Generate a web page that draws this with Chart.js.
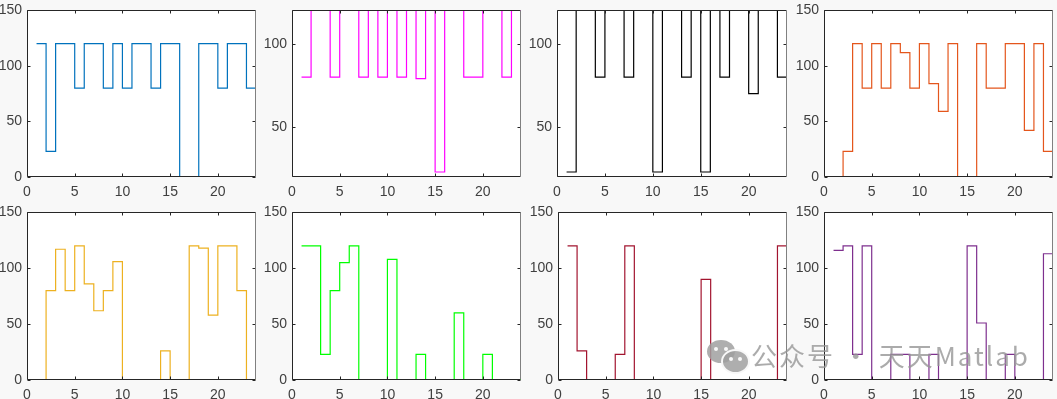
<!DOCTYPE html>
<html>
<head>
<meta charset="utf-8">
<script src="https://cdn.jsdelivr.net/npm/chart.js@4"></script>
<style>
  body { margin: 0; width: 1057px; height: 399px; overflow: hidden; background: #f8f8f8; position: relative; }
  canvas { position: absolute; z-index: 1; }
  .wm { position: absolute; z-index: 5; left: 751px; top: 336px; font-family: "Noto Sans CJK SC", sans-serif; font-size: 26px; color: rgba(150,150,150,0.8); white-space: nowrap; letter-spacing: 2px; }
  .bub { position: absolute; z-index: 5; border-radius: 50%; background: rgba(160,160,160,0.85); }
  .eye { position: absolute; z-index: 6; width: 4px; height: 4px; border-radius: 50%; background: #f8f8f8; }
</style>
</head>
<body>
<div class="bub" style="left:707px;top:340px;width:28px;height:23px"></div>
<div class="bub" style="left:721px;top:349px;width:25px;height:21px;border:2px solid #f8f8f8"></div>
<div class="eye" style="left:714px;top:347px"></div>
<div class="eye" style="left:724px;top:347px"></div>
<div class="eye" style="left:729px;top:357px"></div>
<div class="eye" style="left:738px;top:357px"></div>
<div class="wm">公众号 · 天天Matlab</div>
<script>
// x positions of the stairs (hours 1..24)
const xValues = [1,2,3,4,5,6,7,8,9,10,11,12,13,14,15,16,17,18,19,20,21,22,23,24];
const xTicks = [0, 5, 10, 15, 20];
const yTicksFull = [0, 50, 100, 150];
const yTicksTight = [50, 100];

const blueVals    = [120,23,120,120,80,120,120,80,120,80,120,120,80,120,120,0,0,120,120,80,120,120,80,120];
const magentaVals = [80,120,120,80,120,120,80,120,80,120,80,120,79,120,23,120,120,80,80,120,120,80,120,120];
const blackVals   = [23,120,120,80,120,120,80,120,120,23,120,120,80,120,23,120,80,120,120,70,120,120,80,80];
const orangeVals  = [0,23,120,80,120,80,120,112,80,120,84,59,120,0,0,120,80,80,120,120,42,120,23,80];
const yellowVals  = [0,80,117,80,120,86,62,80,106,0,0,0,0,26,0,0,120,118,58,120,120,80,0,0];
const greenVals   = [120,120,23,80,105,120,0,0,0,108,0,0,23,0,0,0,60,0,0,23,0,0,0,101];
const redVals     = [120,26,0,0,0,23,120,0,0,0,0,0,0,0,90,0,0,0,0,0,0,0,120,120];
const purpleVals  = [116,120,23,120,0,0,23,23,0,0,23,0,0,0,120,51,0,0,23,0,0,0,113,113];

const panels = [
  { vals: blueVals,    color: '#0072BD', ymin: 0,  ymax: 150, yt: yTicksFull,  l: 27,  t: 7,   w: 229, h: 170 },
  { vals: magentaVals, color: '#FF00FF', ymin: 20, ymax: 120, yt: yTicksTight, l: 292, t: 7,   w: 229, h: 170 },
  { vals: blackVals,   color: '#000000', ymin: 20, ymax: 120, yt: yTicksTight, l: 557, t: 7,   w: 230, h: 170 },
  { vals: orangeVals,  color: '#E4561C', ymin: 0,  ymax: 150, yt: yTicksFull,  l: 824, t: 7,   w: 229, h: 170 },
  { vals: yellowVals,  color: '#EDB120', ymin: 0,  ymax: 150, yt: yTicksFull,  l: 27,  t: 209, w: 229, h: 171 },
  { vals: greenVals,   color: '#00FF00', ymin: 0,  ymax: 150, yt: yTicksFull,  l: 292, t: 209, w: 229, h: 171 },
  { vals: redVals,     color: '#A2142F', ymin: 0,  ymax: 150, yt: yTicksFull,  l: 558, t: 209, w: 229, h: 171 },
  { vals: purpleVals,  color: '#7E2F8E', ymin: 0,  ymax: 150, yt: yTicksFull,  l: 824, t: 209, w: 229, h: 171 }
];

// box and inward ticks like a matlab axes
const boxPlugin = {
  id: 'box',
  afterDatasetsDraw(chart) {
    const ctx = chart.ctx, a = chart.chartArea, x = chart.scales.x, y = chart.scales.y;
    const L = Math.round(a.left) + 0.5, R = Math.round(a.right) - 0.5;
    const T = Math.round(a.top) + 0.5, B = Math.round(a.bottom) - 0.5;
    ctx.save();
    ctx.lineWidth = 1;
    ctx.strokeStyle = '#262626';
    ctx.beginPath();
    x.ticks.forEach(tk => {
      const px = Math.round(x.getPixelForValue(tk.value)) + 0.5;
      ctx.moveTo(px, B); ctx.lineTo(px, B - 3);
      ctx.moveTo(px, T); ctx.lineTo(px, T + 3);
    });
    y.ticks.forEach(tk => {
      const py = Math.round(y.getPixelForValue(tk.value)) + 0.5;
      ctx.moveTo(L, py); ctx.lineTo(L + 3, py);
      ctx.moveTo(R, py); ctx.lineTo(R - 3, py);
    });
    ctx.stroke();
    ctx.beginPath();
    ctx.moveTo(L, T); ctx.lineTo(L, B); ctx.lineTo(R, B);
    ctx.moveTo(L, T); ctx.lineTo(R, T);
    ctx.stroke();
    ctx.strokeStyle = '#808080';
    ctx.beginPath();
    ctx.moveTo(R, T); ctx.lineTo(R, B);
    ctx.stroke();
    ctx.restore();
  }
};

const whiteArea = {
  id: 'whiteArea',
  beforeDatasetsDraw(chart) {
    const a = chart.chartArea;
    chart.ctx.save();
    chart.ctx.fillStyle = '#ffffff';
    chart.ctx.fillRect(a.left, a.top, a.right - a.left, a.bottom - a.top);
    chart.ctx.restore();
  }
};

panels.forEach(p => {
  const cv = document.createElement('canvas');
  const W = p.w + 30 + 6, H = p.h + 10 + 26;
  cv.width = W; cv.height = H;
  cv.style.left = (p.l - 30) + 'px';
  cv.style.top = (p.t - 10) + 'px';
  cv.style.width = W + 'px'; cv.style.height = H + 'px';
  document.body.appendChild(cv);

  new Chart(cv, {
    type: 'line',
    data: {
      datasets: [{
        data: xValues.map((xv, i) => ({ x: xv, y: p.vals[i] })),
        borderColor: p.color,
        borderWidth: 1.2,
        stepped: 'before',
        pointRadius: 0,
        fill: false
      }]
    },
    options: {
      responsive: false,
      animation: false,
      devicePixelRatio: 1,
      layout: { padding: { top: 10, right: 6, left: 0, bottom: 0 } },
      plugins: { legend: { display: false }, tooltip: { enabled: false } },
      scales: {
        x: {
          type: 'linear', min: 0, max: 24,
          grid: { display: false, drawTicks: false, tickLength: 0 }, border: { display: false },
          afterBuildTicks: s => { s.ticks = xTicks.map(v => ({ value: v })); },
          afterFit: s => { s.height = 26; },
          ticks: { color: '#404040', padding: 7, maxRotation: 0, font: { family: 'Liberation Sans', size: 14 } }
        },
        y: {
          min: p.ymin, max: p.ymax,
          grid: { display: false, drawTicks: false, tickLength: 0 }, border: { display: false },
          afterBuildTicks: s => { s.ticks = p.yt.map(v => ({ value: v })); },
          afterFit: s => { s.width = 30; },
          ticks: { color: '#404040', padding: 5, font: { family: 'Liberation Sans', size: 14 } }
        }
      }
    },
    plugins: [whiteArea, boxPlugin]
  });
});
</script>
</body>
</html>
